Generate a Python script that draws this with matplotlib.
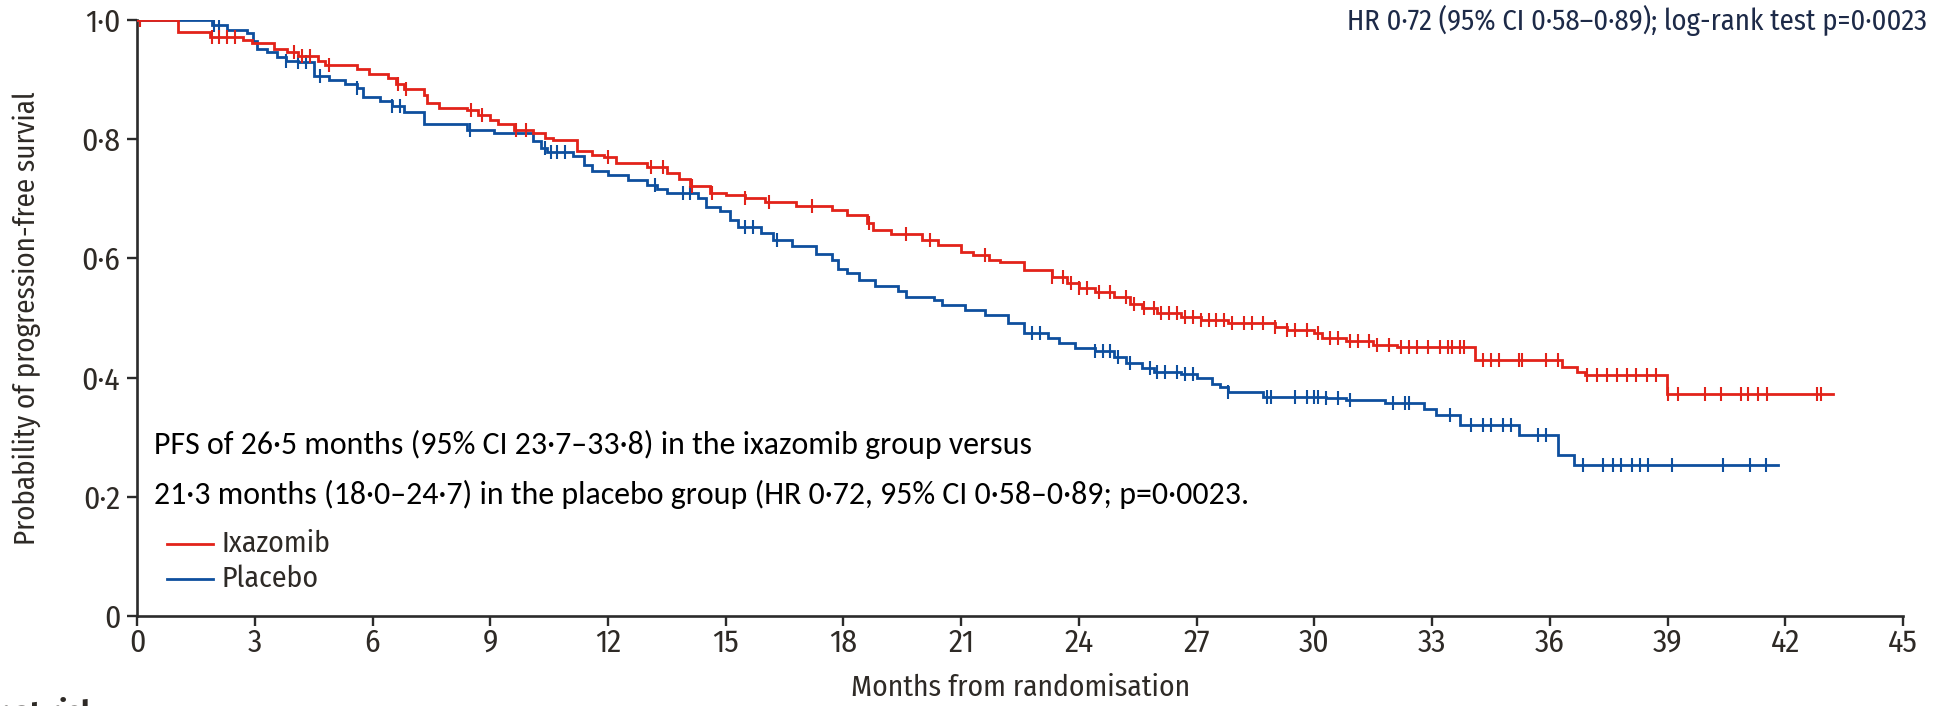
import numpy as np
import matplotlib
matplotlib.use("Agg")
import matplotlib.pyplot as plt
from matplotlib import font_manager
from matplotlib.font_manager import FontProperties

# Kaplan-Meier step data: time of each step (months) and survival after it
ixa_time = [0, 1.04, 1.86, 2.7, 2.93, 3.48, 3.82, 4.1, 4.6, 4.8, 5.6, 5.9, 6.4, 6.6, 6.8,
            7.3, 7.4, 7.7, 8.4, 8.7, 9.0, 9.2, 9.6, 10.1, 10.4, 10.6, 11.2, 11.6, 11.9,
            12.2, 13.0, 13.5, 13.8, 14.1, 14.6, 15.0, 15.5, 16.0, 16.8, 17.7, 18.1, 18.6,
            18.75, 19.2, 20.0, 20.4, 21.0, 21.3, 21.7, 22.0, 22.6, 23.3, 23.7, 24.0, 24.4,
            24.9, 25.3, 25.6, 26.0, 26.6, 27.1, 27.8, 29.0, 29.3, 30.0, 30.2, 30.8, 31.5,
            32.1, 34.1, 36.3, 36.7, 36.9, 38.97, 43.2]
ixa_surv = [1.0, 0.979, 0.971, 0.966, 0.961, 0.952, 0.946, 0.940, 0.932, 0.924, 0.918, 0.910,
            0.902, 0.893, 0.885, 0.874, 0.860, 0.853, 0.849, 0.840, 0.833, 0.826, 0.816, 0.810,
            0.802, 0.799, 0.781, 0.774, 0.770, 0.760, 0.753, 0.743, 0.734, 0.721, 0.709, 0.706,
            0.701, 0.694, 0.688, 0.681, 0.673, 0.659, 0.648, 0.641, 0.631, 0.622, 0.611, 0.605,
            0.597, 0.594, 0.581, 0.569, 0.558, 0.550, 0.544, 0.536, 0.524, 0.516, 0.508, 0.502,
            0.497, 0.491, 0.485, 0.480, 0.474, 0.466, 0.462, 0.455, 0.451, 0.430, 0.418, 0.410,
            0.404, 0.373, 0.373]

pla_time = [0, 1.9, 2.3, 2.8, 2.95, 3.05, 3.3, 3.56, 3.8, 4.1, 4.5, 4.9, 5.3, 5.6, 5.75, 6.2,
            6.5, 6.8, 7.3, 8.4, 9.1, 10.1, 10.3, 10.45, 11.1, 11.4, 11.6, 12.0, 12.5, 13.0,
            13.25, 13.5, 14.3, 14.5, 14.85, 15.1, 15.3, 15.9, 16.2, 16.7, 17.3, 17.7, 17.85,
            18.1, 18.4, 18.8, 19.4, 19.6, 20.3, 20.5, 21.1, 21.6, 22.2, 22.6, 23.2, 23.5, 23.9,
            24.4, 24.9, 25.2, 25.6, 25.9, 26.6, 27.0, 27.4, 27.6, 27.8, 28.7, 30.3, 30.8, 31.8,
            32.8, 33.1, 33.7, 35.2, 36.2, 36.6, 41.8]
pla_surv = [1.0, 0.992, 0.983, 0.978, 0.964, 0.952, 0.946, 0.938, 0.932, 0.929, 0.906, 0.899,
            0.893, 0.886, 0.870, 0.864, 0.856, 0.845, 0.826, 0.816, 0.810, 0.797, 0.786, 0.779,
            0.771, 0.757, 0.746, 0.740, 0.731, 0.723, 0.717, 0.709, 0.701, 0.687, 0.679, 0.665,
            0.653, 0.642, 0.631, 0.620, 0.608, 0.597, 0.583, 0.575, 0.564, 0.553, 0.545, 0.536,
            0.530, 0.522, 0.514, 0.505, 0.491, 0.474, 0.466, 0.458, 0.449, 0.444, 0.435, 0.424,
            0.416, 0.410, 0.406, 0.399, 0.390, 0.385, 0.375, 0.368, 0.365, 0.362, 0.357, 0.348,
            0.337, 0.320, 0.303, 0.270, 0.253, 0.253]

# Censoring times (months)
ixa_cens = [0.07, 1.9, 2.1, 2.3, 2.5, 4.0, 4.2, 4.4, 4.9, 6.65, 6.85, 8.5, 8.8, 9.65, 9.9,
            12.0, 13.1, 13.4, 14.15, 14.65, 15.5, 16.1, 17.2, 18.65, 19.6, 20.2, 21.6,
            23.3, 23.6, 23.8, 24.0, 24.2, 24.5, 24.8, 25.2, 25.4, 25.65, 25.9, 26.1, 26.3,
            26.5, 26.7, 26.9, 27.1, 27.3, 27.5, 27.7, 27.9, 28.2, 28.4, 28.7, 29.0, 29.3,
            29.5, 29.8, 30.1, 30.4, 30.6, 30.9, 31.1, 31.4, 31.6, 31.9, 32.2, 32.4, 32.6,
            32.9, 33.2, 33.4, 33.5, 33.7, 33.8, 34.3, 34.5, 34.7, 35.2, 35.3, 35.9, 36.2,
            36.95, 37.2, 37.45, 37.7, 37.95, 38.2, 38.46, 38.7, 39.0, 39.27, 39.95, 40.37,
            40.88, 41.05, 41.31, 41.52, 42.8, 42.9]
pla_cens = [1.95, 2.1, 3.8, 4.1, 4.3, 4.66, 5.6, 6.5, 6.7, 8.48, 10.4, 10.55, 10.7, 10.9,
            13.2, 13.9, 14.1, 15.5, 15.7, 16.3, 22.8, 23.0, 24.4, 24.6, 24.8, 25.0, 25.3,
            25.8, 26.0, 26.2, 26.5, 26.7, 26.9, 27.8, 28.8, 28.9, 29.5, 29.8, 30.0, 30.1,
            30.3, 30.6, 30.9, 32.0, 32.3, 32.4, 33.45, 34.0, 34.3, 34.5, 34.8, 35.0, 35.7,
            35.9, 36.85, 37.35, 37.6, 37.8, 38.1, 38.3, 38.5, 39.1, 40.4, 41.1, 41.5]

group_names = ["Ixazomib", "Placebo"]
x_ticks = list(range(0, 46, 3))
y_ticks = [0, 0.2, 0.4, 0.6, 0.8, 1.0]
y_tick_labels = ["0", "0·2", "0·4", "0·6", "0·8", "1·0"]

RED = "#e2231a"
BLUE = "#0e4f9e"
AXIS = "#2b2b2b"
TICKTXT = "#2e2a26"

available = {f.name for f in font_manager.fontManager.ttflist}


def first_font(candidates, default="DejaVu Sans"):
    for c in candidates:
        if c in available:
            return c
    return default


cond_family = first_font(["Fira Sans Condensed", "PT Sans Narrow", "Roboto Condensed",
                          "Asap Condensed", "IBM Plex Sans Condensed", "Archivo Narrow"])
body_family = first_font(["Carlito", "Lato"])


def cond(size, weight="normal"):
    return FontProperties(family=cond_family, size=size, weight=weight)


def body(size):
    return FontProperties(family=body_family, size=size)


fig = plt.figure(figsize=(19.52, 7.06), dpi=100)
ax = fig.add_axes([0.0702, 0.1275, 0.9048, 0.8442])
renderer = fig.canvas.get_renderer()


def fit_width(artist, target_px, vertical=False):
    """Rescale a text's font size so its rendered extent spans target_px."""
    bb = artist.get_window_extent(renderer)
    span = bb.height if vertical else bb.width
    artist.set_fontsize(artist.get_fontsize() * target_px / span)
    return artist.get_fontsize()


def cens_y(times, surv, cens):
    t = np.asarray(times)
    s = np.asarray(surv)
    idx = np.searchsorted(t, np.asarray(cens), side="right") - 1
    return s[idx]


for times, surv, cens, col in [(pla_time, pla_surv, pla_cens, BLUE),
                               (ixa_time, ixa_surv, ixa_cens, RED)]:
    ax.step(times, surv, where="post", color=col, lw=2.0, solid_joinstyle="miter", zorder=3)
    ax.plot(cens, cens_y(times, surv, cens), ls="none", marker="|", ms=9.5, mew=1.5,
            color=col, zorder=3)

ax.set_xlim(0, 45)
ax.set_ylim(0, 1.0)
for side in ("top", "right"):
    ax.spines[side].set_visible(False)
for side in ("left", "bottom"):
    ax.spines[side].set_color(AXIS)
    ax.spines[side].set_linewidth(1.9)
ax.set_xticks(x_ticks)
ax.set_xticklabels([str(v) for v in x_ticks])
ax.set_yticks(y_ticks)
ax.set_yticklabels(y_tick_labels)
ax.tick_params(axis="both", direction="out", length=7, width=1.7, color=AXIS,
               labelcolor=TICKTXT)
ax.tick_params(axis="x", pad=1.5)
ax.tick_params(axis="y", pad=5)

# tick label size chosen so that "0·8" spans about 39 px
probe = fig.text(0, 0, "0·8", fontproperties=cond(16))
tick_size = fit_width(probe, 39)
probe.remove()
for lab in ax.get_xticklabels() + ax.get_yticklabels():
    lab.set_fontproperties(cond(tick_size))

ax.set_xlabel("Months from randomisation", fontproperties=cond(16), color=TICKTXT)
fit_width(ax.xaxis.label, 340)
ax.xaxis.label.set_va("center")
ax.xaxis.set_label_coords(0.5, -(688 - 616) / 596)

ax.set_ylabel("Probability of progression-free survial", fontproperties=cond(16),
              color=TICKTXT)
fit_width(ax.yaxis.label, 454, vertical=True)
ax.yaxis.label.set_va("center")
ax.yaxis.set_label_coords((27 - 137) / 1766, 0.5)

# legend drawn as short line samples with labels
leg_size = None
for i, (name, col) in enumerate(zip(group_names, [RED, BLUE])):
    yy = 1 - (544 + 35 * i) / 706
    fig.add_artist(plt.Line2D([167 / 1952, 213 / 1952], [yy, yy], color=col, lw=2.0))
    t = fig.text(221 / 1952, yy, name, fontproperties=cond(16), color=TICKTXT,
                 ha="left", va="center")
    if leg_size is None:
        leg_size = fit_width(t, 109)
    else:
        t.set_fontsize(leg_size)

hr = fig.text(1927 / 1952, 1 - 20 / 706,
              "HR 0·72 (95% CI 0·58–0·89); log-rank test p=0·0023",
              fontproperties=cond(16), color="#1d2a48", ha="right", va="center")
fit_width(hr, 579)

l1 = fig.text(154 / 1952, 1 - 444 / 706,
              "PFS of 26·5 months (95% CI 23·7–33·8) in the ixazomib group versus",
              fontproperties=body(21), color="black", ha="left", va="center")
l2 = fig.text(154 / 1952, 1 - 494 / 706,
              "21·3 months (18·0–24·7) in the placebo group (HR 0·72, 95% CI 0·58–0·89; p=0·0023.",
              fontproperties=body(21), color="black", ha="left", va="center")
l1.set_fontsize(fit_width(l2, 1095))

fig.text(97 / 1952, 1 - 698 / 706, "Number at risk", fontproperties=cond(tick_size, "bold"),
         color=TICKTXT, ha="right", va="top")

fig.savefig("out.png", dpi=100)
